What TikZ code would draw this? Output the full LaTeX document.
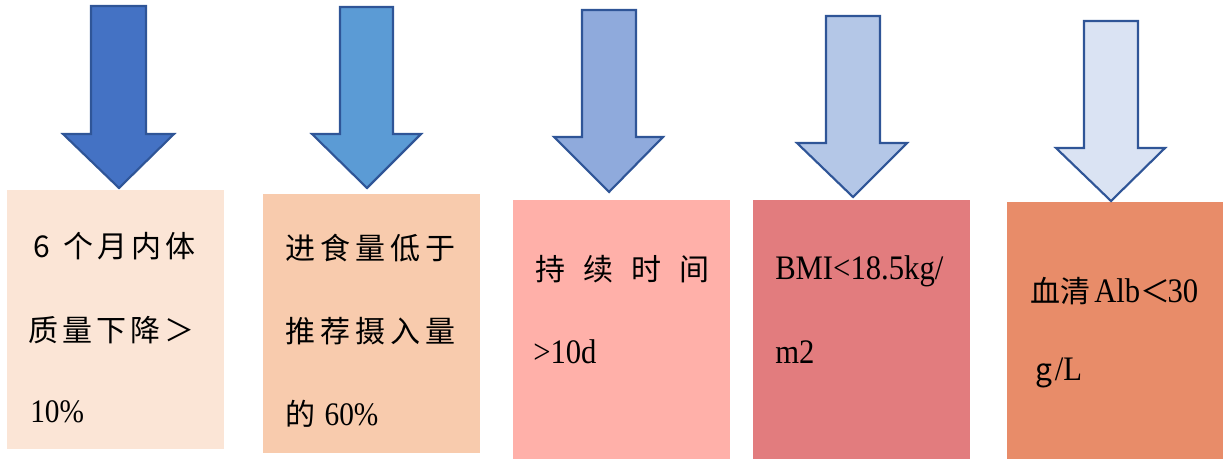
\documentclass[tikz,border=0pt]{standalone}
\usepackage{fontspec}
\setmainfont{Liberation Serif}
\newfontfamily\cjkfam{Noto Sans CJK SC}
\newcommand\ck{\cjkfam\fontsize{22.5}{27}\selectfont}
\newcommand\lat[1]{\scalebox{1}[1.12]{#1}}
\definecolor{bxa}{HTML}{FBE5D6}
\definecolor{bxb}{HTML}{F8CBAD}
\definecolor{bxc}{HTML}{FFB0A9}
\definecolor{bxd}{HTML}{E27C7E}
\definecolor{bxe}{HTML}{E88C69}
\definecolor{ara}{HTML}{4472C4}
\definecolor{arb}{HTML}{5B9BD5}
\definecolor{arc}{HTML}{8FAADC}
\definecolor{ard}{HTML}{B4C7E7}
\definecolor{are}{HTML}{DAE3F3}
\definecolor{arline}{HTML}{2F5597}
\newcommand\downarr[9]{\filldraw[arrst,fill=#1] (#2,#4) -- (#3,#4) -- (#3,#5) -- (#7,#5) -- (#8,#9) -- (#6,#5) -- (#2,#5) -- cycle;}
\begin{document}
\begin{tikzpicture}[x=0.75pt,y=-0.75pt,
  arrst/.style={draw=arline,line width=1.6pt,line join=miter},
  txt/.style={anchor=base west,inner sep=0pt,font=\fontsize{23}{27}\selectfont}]
\useasboundingbox (0,0) rectangle (1223,459);
% boxes
\fill[bxa] (7,190) rectangle (224,449);
\fill[bxb] (263,194) rectangle (480,453);
\fill[bxc] (513,200) rectangle (730,459);
\fill[bxd] (753,200) rectangle (970,459);
\fill[bxe] (1007,202) rectangle (1223,459);
% arrows
\downarr{ara}{91}{146}{6}{134}{63}{174}{119}{188}
\downarr{arb}{340}{393}{7}{134}{312}{421}{367}{188}
\downarr{arc}{582}{636}{10}{137}{554}{663}{609}{192}
\downarr{ard}{826}{880}{16}{143}{797}{907}{853}{197}
\downarr{are}{1084}{1138}{21}{148}{1056}{1165}{1111}{201}
% texts
\node[txt] (t1a) at (33,258) {\ck 6\kern10pt 个\kern3pt 月\kern3pt 内\kern3pt 体};
\node[txt] (t1b) at (28,341) {\ck 质\kern3pt 量\kern3pt 下\kern3pt 降\kern3pt ＞};
\node[txt] (t1c) at (30,422) {\lat{\fontsize{22}{26}\selectfont 10\%}};
\node[txt] (t2a) at (285,260) {\ck 进\kern3.75pt 食\kern3.75pt 量\kern3.75pt 低\kern3.75pt 于};
\node[txt] (t2b) at (285,343) {\ck 推\kern3.75pt 荐\kern3.75pt 摄\kern3.75pt 入\kern3.75pt 量};
\node[txt] (t2c) at (285,425) {{\ck 的}\kern7pt\lat{\fontsize{22}{26}\selectfont 60\%}};
\node[txt] (t3a) at (535,281) {\ck 持\kern13.5pt 续\kern13.5pt 时\kern13.5pt 间};
\node[txt] (t3b) at (533,363) {\lat{>10d}};
\node[txt] (t4a) at (775,280) {\lat{BMI<18.5kg/}};
\node[txt] (t4b) at (775,363) {\lat{m2}};
\node[txt] (t5a) at (1030,303) {{\ck 血清}\kern3pt\lat{Alb}{\ck ＜}\kern-2pt\lat{30}};
\node[txt] (t5b) at (1035,380) {{\ck g}\kern2pt\lat{/L}};
\end{tikzpicture}
\end{document}
